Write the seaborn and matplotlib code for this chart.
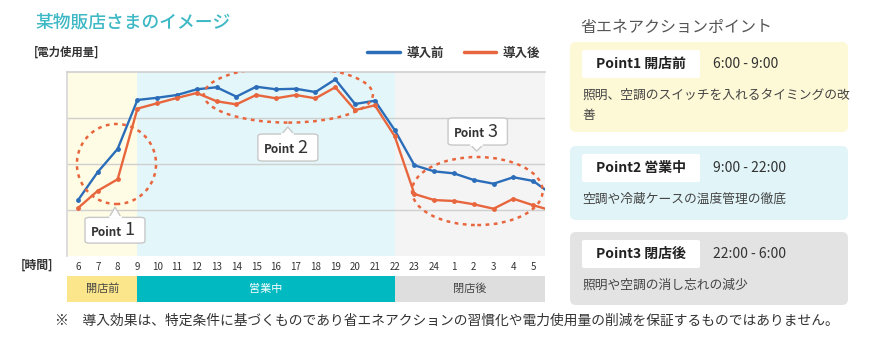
import matplotlib
matplotlib.use("Agg")
import matplotlib.pyplot as plt
import seaborn as sns
import pandas as pd
from matplotlib.patches import Ellipse, FancyBboxPatch, Polygon

# data
hours = ["6", "7", "8", "9", "10", "11", "12", "13", "14", "15", "16", "17",
         "18", "19", "20", "21", "22", "23", "24", "1", "2", "3", "4", "5"]
# last value of each series is hour 6 of the next day (cut off at the right edge)
before = [30.4, 45.7, 58.2, 84.8, 86.0, 87.5, 90.6, 91.7, 86.6, 92.0, 90.6, 90.9,
          89.1, 96.0, 82.6, 84.4, 68.5, 49.3, 46.0, 44.9, 41.3, 39.3, 42.8, 40.8, 33.0]
after = [26.1, 35.5, 41.7, 80.1, 83.0, 85.9, 88.6, 84.1, 82.4, 87.5, 85.7, 87.5,
         85.7, 91.7, 79.3, 81.9, 65.2, 33.7, 30.4, 29.9, 28.1, 25.7, 31.1, 27.6, 24.5]
series_names = ["導入前", "導入後"]
phase_names = ["開店前", "営業中", "閉店後"]
phase_bounds = [3, 16]  # index where 9:00 and 22:00 fall

point_titles = ["Point1 開店前", "Point2 営業中", "Point3 閉店後"]
point_times = ["6:00 - 9:00", "9:00 - 22:00", "22:00 - 6:00"]
point_texts = [["照明、空調のスイッチを入れるタイミングの改", "善"],
               ["空調や冷蔵ケースの温度管理の徹底"],
               ["照明や空調の消し忘れの減少"]]

W, H = 884, 355
XMIN, XMAX = -0.56, 23.6

sns.set_theme(style="white")
plt.rcParams["font.family"] = ["Noto Sans CJK JP", "DejaVu Sans"]

df = pd.DataFrame({
    "x": list(range(len(before))) * 2,
    "value": before + after,
    "series": [series_names[0]] * len(before) + [series_names[1]] * len(after),
})
palette = {series_names[0]: "#2B6DB9", series_names[1]: "#E8663D"}

fig = plt.figure(figsize=(W / 100, H / 100), dpi=100)
fig.patch.set_facecolor("white")


def fig_rect(x0, y0, x1, y1):
    return [x0 / W, (H - y1) / H, (x1 - x0) / W, (y1 - y0) / H]


ax = fig.add_axes(fig_rect(67, 72, 545, 256))
bounds = [XMIN] + phase_bounds + [XMAX]
bg = ["#FFFCE5", "#E3F6F9", "#F4F4F4"]
for i in range(3):
    ax.axvspan(bounds[i], bounds[i + 1], color=bg[i], zorder=0, lw=0)

sns.lineplot(data=df, x="x", y="value", hue="series", palette=palette, ax=ax,
             marker="o", markersize=3.5, markeredgewidth=0, linewidth=1.7,
             sort=True, zorder=3)
ax.set_xlim(XMIN, XMAX)
ax.set_ylim(0, 100)
ax.set_yticks([25, 50, 75])
ax.yaxis.grid(True, color="#CFCFCF", linewidth=1)
ax.set_yticklabels([])
ax.set_xticks(range(len(hours)))
ax.set_xticklabels(hours, fontsize=7, color="#333333")
ax.tick_params(axis="x", length=0, pad=4)
ax.tick_params(axis="y", length=0)
ax.set_xlabel("")
ax.set_ylabel("")
for s in ["right", "bottom"]:
    ax.spines[s].set_visible(False)
ax.spines["top"].set_color("#CFCFCF")
ax.spines["top"].set_linewidth(1.2)
ax.spines["left"].set_color("#D8D8D8")

leg = ax.legend(loc="lower right", bbox_to_anchor=(1.0, 1.04), ncol=2, frameon=False,
                fontsize=9, handlelength=2.6, handletextpad=0.5, columnspacing=1.6,
                borderaxespad=0)
for t in leg.get_texts():
    t.set_fontweight("bold")
    t.set_color("#333333")
for l in leg.get_lines():
    l.set_linewidth(2.5)
    l.set_marker("")

# dotted ellipses
ell_col = "#E8663D"
for cx, cy, ew, eh in [(1.94, 50, 4.0, 43.5), (10.63, 87.7, 8.54, 30.4), (20.18, 35.3, 6.6, 37)]:
    ax.add_patch(Ellipse((cx, cy), ew, eh, fill=False, edgecolor=ell_col, lw=1.8,
                         linestyle=(0, (1.5, 1.8)), zorder=4))


def callout(x0, x1, y0, y1, tip_x, tip_y, num):
    box = FancyBboxPatch((x0, y0), x1 - x0, y1 - y0,
                         boxstyle="round,pad=0,rounding_size=0.25",
                         mutation_aspect=4.5, facecolor="white",
                         edgecolor="#C8C8C8", lw=1, zorder=5)
    ax.add_patch(box)
    base = y1 if tip_y > y1 else y0
    tri = Polygon([(tip_x - 0.3, base), (tip_x, tip_y), (tip_x + 0.3, base)],
                  closed=False, facecolor="white", edgecolor="#C8C8C8", lw=1, zorder=6)
    ax.add_patch(tri)
    ax.plot([tip_x - 0.28, tip_x + 0.28], [base, base], color="white", lw=1.5, zorder=7)
    cxm = (x0 + x1) / 2
    cym = (y0 + y1) / 2
    ax.text(cxm + 0.35, cym - 1, "Point", ha="right", va="center", fontsize=8.5,
            color="#333333", fontweight="bold", zorder=8)
    ax.text(cxm + 0.5, cym, num, ha="left", va="center", fontsize=13,
            color="#333333", zorder=8)


callout(0.35, 3.38, 7, 21, 1.87, 26.6, "1")
callout(9.09, 12.12, 51.6, 66.3, 10.6, 70.1, "2")
callout(18.7, 21.7, 60.3, 75, 20.15, 57, "3")

# phase bar
axb = fig.add_axes(fig_rect(67, 276, 545, 302))
phase_cols = ["#FBE68C", "#00B9C1", "#DEDEDE"]
phase_txt = ["#444444", "white", "#444444"]
lefts = bounds[:-1]
widths = [bounds[i + 1] - bounds[i] for i in range(3)]
axb.barh([0] * 3, widths, left=lefts, height=1, color=phase_cols, linewidth=0)
for i in range(3):
    axb.text(lefts[i] + widths[i] / 2, 0, phase_names[i], ha="center", va="center",
             fontsize=8, color=phase_txt[i])
axb.set_xlim(XMIN, XMAX)
axb.set_ylim(-0.5, 0.5)
axb.axis("off")

# overlay in pixel coordinates for texts and the side panel
ov = fig.add_axes([0, 0, 1, 1], zorder=10)
ov.set_xlim(0, W)
ov.set_ylim(H, 0)
ov.axis("off")
ov.patch.set_alpha(0)

ov.text(35, 22, "某物販店さまのイメージ", fontsize=12.8, color="#3DB8C5",
        ha="left", va="center", fontweight="medium")
ov.text(34, 52, "[電力使用量]", fontsize=8.2, color="#333333", ha="left", va="center",
        fontweight="bold")
ov.text(21, 265, "[時間]", fontsize=8.5, color="#333333", ha="left", va="center",
        fontweight="bold")

ov.text(580, 27, "省エネアクションポイント", fontsize=11.5, color="#555555",
        ha="left", va="center")
panel = [(42, 90, "#FDF8D6"), (146, 74, "#E1F5F8"), (232, 73, "#E3E3E3")]
for i, (top, h, col) in enumerate(panel):
    ov.add_patch(FancyBboxPatch((570, top), 278, h, boxstyle="round,pad=0,rounding_size=6",
                                facecolor=col, edgecolor="none"))
    ov.add_patch(FancyBboxPatch((582, top + 8), 118, 28, boxstyle="round,pad=0,rounding_size=2",
                                facecolor="white", edgecolor="none"))
    ov.text(641, top + 22, point_titles[i], fontsize=10, fontweight="bold",
            color="#222222", ha="center", va="center")
    ov.text(713, top + 22, point_times[i], fontsize=10, color="#333333",
            ha="left", va="center")
    for j, line in enumerate(point_texts[i]):
        ov.text(582, top + 53 + j * 21, line, fontsize=9.2, color="#444444",
                ha="left", va="center")

ov.text(55, 321, "※　導入効果は、特定条件に基づくものであり省エネアクションの習慣化や電力使用量の削減を保証するものではありません。",
        fontsize=9.9, color="#333333", ha="left", va="center")

fig.savefig("out.png", dpi=100)
